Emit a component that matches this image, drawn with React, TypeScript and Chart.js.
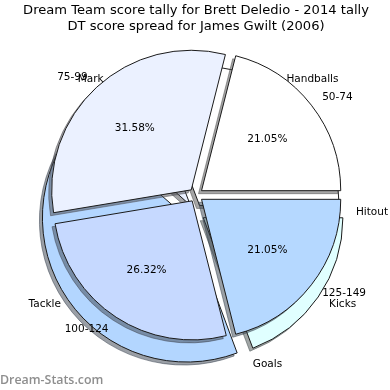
import React, { useEffect, useRef } from "react";
import { Chart, registerables } from "chart.js";

Chart.register(...registerables);

// ---- data ----
const titleLines = [
  "Dream Team score tally for Brett Deledio - 2014 tally",
  "DT score spread for James Gwilt (2006)",
];
// back pie (counter-clockwise order from 3 o'clock)
const backLabels = ["Handballs", "Mark", "Tackle", "Goals", "Kicks", "Hitout"];
const backValues = [16, 4, 22, 0, 10, 0];
const backColors = ["#ffffff", "#eaf0ff", "#b3d6ff", "#dddddd", "#e0ffff", "#eeeeee"];
const backExplode = [32, 32, 40, 40, 40, 32];
// front pie (counter-clockwise order from 3 o'clock)
const frontLabels = ["50-74", "75-99", "100-124", "125-149"];
const frontValues = [4, 6, 5, 4];
const frontColors = ["#ffffff", "#ebf1ff", "#c6d9ff", "#b5d8ff"];
const frontExplode = [28, 28, 28, 28];
const watermark = "Dream-Stats.com";

const FONT = "'DejaVu Sans', sans-serif";

function darken(hex: string) {
  const h = hex.replace("#", "");
  const r = Math.round(parseInt(h.slice(0, 2), 16) * 0.3);
  const g = Math.round(parseInt(h.slice(2, 4), 16) * 0.3);
  const b = Math.round(parseInt(h.slice(4, 6), 16) * 0.3);
  return `rgba(${r},${g},${b},0.5)`;
}

function makePlugins(showPct: boolean, showWatermark: boolean) {
  return [
    {
      id: "mplShadow",
      beforeDatasetsDraw(chart: any) {
        const ctx = chart.ctx;
        const meta = chart.getDatasetMeta(0);
        ctx.save();
        ctx.translate(-3, 3);
        meta.data.forEach((arc: any) => {
          const orig = arc.options;
          const dark = darken(orig.backgroundColor);
          arc.options = { ...orig, backgroundColor: dark, borderColor: dark };
          arc.draw(ctx);
          arc.options = orig;
        });
        ctx.restore();
      },
    },
    {
      id: "mplLabels",
      afterDatasetsDraw(chart: any) {
        const ctx = chart.ctx;
        const meta = chart.getDatasetMeta(0);
        const labels = chart.data.labels;
        const values = chart.data.datasets[0].data as number[];
        const total = values.reduce((a, b) => a + b, 0);
        ctx.save();
        ctx.fillStyle = "#000";
        ctx.font = `10.5px ${FONT}`;
        ctx.textBaseline = "middle";
        meta.data.forEach((arc: any, i: number) => {
          const p = arc.getProps(["x", "y", "startAngle", "endAngle", "outerRadius"], true);
          const mid = (p.startAngle + p.endAngle) / 2;
          const off = (arc.options.offset || 0) / 4;
          const cx = p.x + Math.cos(mid) * off;
          const cy = p.y + Math.sin(mid) * off;
          const lx = cx + Math.cos(mid) * p.outerRadius * 1.1;
          const ly = cy + Math.sin(mid) * p.outerRadius * 1.1;
          ctx.textAlign = Math.cos(mid) >= -1e-9 ? "left" : "right";
          ctx.fillText(labels[i], lx, ly);
          if (showPct && values[i] > 0) {
            const px = cx + Math.cos(mid) * p.outerRadius * 0.6;
            const py = cy + Math.sin(mid) * p.outerRadius * 0.6;
            ctx.textAlign = "center";
            ctx.fillText(((values[i] / total) * 100).toFixed(2) + "%", px, py);
          }
        });
        ctx.restore();
      },
      afterDraw(chart: any) {
        if (!showWatermark) return;
        const ctx = chart.ctx;
        ctx.save();
        ctx.font = `600 12.4px 'Open Sans', sans-serif`;
        ctx.fillStyle = "#8e8e8e";
        ctx.textAlign = "left";
        ctx.textBaseline = "middle";
        ctx.fillText(watermark, 0, 380);
        ctx.restore();
      },
    },
  ];
}

function makeConfig(
  labels: string[],
  values: number[],
  colors: string[],
  explode: number[],
  padding: any,
  titleColor: string,
  showPct: boolean,
  showWatermark: boolean
): any {
  // Chart.js draws clockwise; matplotlib draws counter-clockwise -> reverse
  const rl = [...labels].reverse();
  const rv = [...values].reverse();
  const rc = [...colors].reverse();
  const ro = [...explode].reverse();
  return {
    type: "pie",
    data: {
      labels: rl,
      datasets: [
        {
          data: rv,
          backgroundColor: rc,
          borderColor: "#1a1a1a",
          borderWidth: 1,
          offset: ro,
          radius: 139,
        },
      ],
    },
    options: {
      responsive: false,
      animation: false,
      devicePixelRatio: 1,
      rotation: 90,
      radius: 139,
      layout: { padding },
      plugins: {
        legend: { display: false },
        tooltip: { enabled: false },
        title: {
          display: true,
          text: titleLines,
          color: titleColor,
          font: { family: FONT, size: 13.1, weight: "normal", lineHeight: 1.27 },
          padding: { top: 2, bottom: 4 },
        },
      },
    },
    plugins: makePlugins(showPct, showWatermark),
  };
}

export default function App() {
  const backRef = useRef<HTMLCanvasElement>(null);
  const frontRef = useRef<HTMLCanvasElement>(null);

  useEffect(() => {
    // title block height: 2 * 13.1 * 1.27 + 6 = 39.27
    const back = new Chart(
      backRef.current as HTMLCanvasElement,
      makeConfig(
        backLabels,
        backValues,
        backColors,
        backExplode,
        { top: 0, bottom: 5.27, left: 0, right: 0 },
        "rgba(0,0,0,0)",
        false,
        false
      )
    );
    const front = new Chart(
      frontRef.current as HTMLCanvasElement,
      makeConfig(
        frontLabels,
        frontValues,
        frontColors,
        frontExplode,
        { top: 0, bottom: 39.27, left: 2, right: 0 },
        "#000",
        true,
        true
      )
    );
    return () => {
      back.destroy();
      front.destroy();
    };
  }, []);

  const cs: React.CSSProperties = { position: "absolute", left: 0, top: 0 };
  return (
    <div style={{ position: "fixed", left: 0, top: 0, width: 390, height: 390, background: "#fff" }}>
      <canvas ref={backRef} width={390} height={390} style={cs} />
      <canvas ref={frontRef} width={390} height={390} style={cs} />
    </div>
  );
}
